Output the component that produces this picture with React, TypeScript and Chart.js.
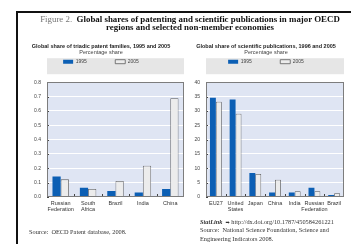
import React, { useEffect, useRef } from "react";
import { Chart, registerables } from "chart.js";

Chart.register(...registerables);

const seriesLabels = ["1995", "2005"];

const patentCategories: (string | string[])[] = [["Russian", "Federation"], ["South", "Africa"], "Brazil", "India", "China"];
const patent1995 = [0.142, 0.065, 0.042, 0.031, 0.056];
const patent2005 = [0.123, 0.056, 0.111, 0.218, 0.689];
const patentMax = 0.8;
const patentStep = 0.1;

const pubCategories: (string | string[])[] = ["EU27", ["United", "States"], "Japan", "China", "India", ["Russian", "Federation"], "Brazil"];
const pub1995 = [34.6, 34.0, 8.4, 1.6, 1.6, 3.2, 0.7];
const pub2005 = [33.2, 29.0, 8.0, 6.0, 2.0, 2.0, 1.3];
const pubMax = 40;
const pubStep = 5;

const SANS = "'Liberation Sans Narrow', 'Liberation Sans', Arial, sans-serif";
const SERIF = "'Liberation Serif', 'DejaVu Serif', serif";

const LEGEND_GAP = 8;

const decoPlugin = {
  id: "deco",
  afterInit(chart: any) {
    const lg = chart.legend;
    if (lg && !lg._patched) {
      const orig = lg.fit.bind(lg);
      lg.fit = function () {
        orig();
        this.height += LEGEND_GAP;
      };
      lg._patched = true;
    }
  },
  beforeDraw(chart: any) {
    const { ctx, chartArea: a, legend } = chart;
    ctx.save();
    if (legend) {
      ctx.fillStyle = "#e6e6e6";
      ctx.fillRect(a.left, legend.top, a.right - a.left, legend.bottom - legend.top - LEGEND_GAP);
    }
    ctx.fillStyle = "#dfe5f3";
    ctx.fillRect(a.left, a.top, a.right - a.left, a.bottom - a.top);
    ctx.restore();
  },
  afterDatasetsDraw(chart: any) {
    const { ctx, chartArea: a } = chart;
    const xs = chart.scales.x;
    const ys = chart.scales.y;
    ctx.save();
    ctx.strokeStyle = "#444";
    ctx.lineWidth = 1;
    const n = chart.data.labels.length;
    for (let i = 0; i < n - 1; i++) {
      const x = Math.round((xs.getPixelForValue(i) + xs.getPixelForValue(i + 1)) / 2) + 0.5;
      ctx.beginPath();
      ctx.moveTo(x, a.bottom);
      ctx.lineTo(x, a.bottom - 3);
      ctx.stroke();
    }
    ys.ticks.forEach((t: any) => {
      const y = Math.round(ys.getPixelForValue(t.value)) + 0.5;
      ctx.beginPath();
      ctx.moveTo(a.left, y);
      ctx.lineTo(a.left + 2, y);
      ctx.stroke();
    });
    ctx.strokeStyle = "#7d7d7d";
    ctx.strokeRect(Math.round(a.left) + 0.5, Math.round(a.top) + 0.5, Math.round(a.right - a.left) - 1, Math.round(a.bottom - a.top) - 1);
    ctx.restore();
  },
};

type PanelProps = {
  left: number;
  width: number;
  yWidth: number;
  padRight: number;
  title: string;
  categories: (string | string[])[];
  d1: number[];
  d2: number[];
  max: number;
  step: number;
  decimals: number;
};

function Panel(p: PanelProps) {
  const ref = useRef<HTMLCanvasElement>(null);
  useEffect(() => {
    if (!ref.current) return;
    const chart = new Chart(ref.current, {
      type: "bar",
      data: {
        labels: p.categories as any,
        datasets: [
          { label: seriesLabels[0], data: p.d1, backgroundColor: "#0c5fb4", borderColor: "#0a4f98", borderWidth: 0 },
          { label: seriesLabels[1], data: p.d2, backgroundColor: "#ececec", borderColor: "#5a5a5a", borderWidth: 0.8 },
        ],
      },
      options: {
        animation: false,
        responsive: false,
        maintainAspectRatio: false,
        devicePixelRatio: 1,
        layout: { padding: { left: 0, right: p.padRight, top: 0, bottom: 0 } },
        datasets: { bar: { categoryPercentage: 0.6, barPercentage: 1 } } as any,
        scales: {
          x: {
            grid: { display: false, drawTicks: false },
            border: { display: false },
            ticks: { font: { size: 5.5, family: SANS }, color: "#333", padding: 3, maxRotation: 0, autoSkip: false },
            afterFit: (s: any) => { s.height = 21; },
          },
          y: {
            min: 0,
            max: p.max,
            ticks: {
              stepSize: p.step,
              font: { size: 5, family: SANS },
              color: "#444",
              padding: 6,
              callback: (v: any) => Number(v).toFixed(p.decimals),
            },
            grid: { color: "#ffffff", lineWidth: 1, drawTicks: false },
            border: { display: false },
            afterFit: (s: any) => { s.width = p.yWidth; },
          },
        },
        plugins: {
          title: {
            display: true,
            text: p.title,
            font: { size: 5.5, family: SANS, weight: "bold" },
            color: "#222",
            padding: { top: 1, bottom: 0 },
          },
          subtitle: {
            display: true,
            text: "Percentage share",
            font: { size: 5.5, family: SANS },
            color: "#444",
            padding: { top: 0, bottom: 2 },
          },
          legend: {
            display: true,
            labels: {
              boxWidth: 10,
              boxHeight: 4,
              padding: 1,
              color: "#444",
              font: { size: 5, family: SANS },
              generateLabels: (chart: any) => {
                const items = (Chart.defaults.plugins.legend.labels as any).generateLabels(chart);
                items.forEach((it: any, i: number) => {
                  if (i < items.length - 1) it.text = it.text + "\u2003\u2003\u2003\u2003\u2003\u2002";
                });
                return items;
              },
            },
          },
          tooltip: { enabled: false },
        },
      },
      plugins: [decoPlugin],
    });
    return () => chart.destroy();
  }, []);
  return (
    <canvas
      ref={ref}
      width={p.width}
      height={176}
      style={{ position: "absolute", left: p.left, top: 42, width: p.width, height: 176 }}
    />
  );
}

const textLayer: React.CSSProperties = { willChange: "transform", transform: "translateZ(0)" };

export default function App() {
  return (
    <div style={{ position: "fixed", left: 0, top: 0, width: 351, height: 244, background: "#fff", overflow: "hidden" }}>
      <div style={{ position: "absolute", left: 16, top: 11, width: 400, height: 300, borderLeft: "2px solid #111", borderTop: "2px solid #111" }} />
      <div style={{ ...textLayer, position: "absolute", left: 30, top: 15, width: 320, textAlign: "center", fontFamily: SERIF, fontSize: 8.9, lineHeight: "8px", color: "#111", whiteSpace: "nowrap" }}>
        <span style={{ color: "#777" }}>Figure 2.</span>&nbsp;&nbsp;<b>Global shares of patenting and scientific publications in major OECD</b>
        <br />
        <b>regions and selected non-member economies</b>
      </div>
      <Panel
        left={18}
        width={195}
        yWidth={29}
        padRight={29}
        title="Global share of triadic patent families, 1995 and 2005"
        categories={patentCategories}
        d1={patent1995}
        d2={patent2005}
        max={patentMax}
        step={patentStep}
        decimals={1}
      />
      <Panel
        left={188}
        width={174}
        yWidth={18}
        padRight={18}
        title="Global share of scientific publications, 1996 and 2005"
        categories={pubCategories}
        d1={pub1995}
        d2={pub2005}
        max={pubMax}
        step={pubStep}
        decimals={0}
      />
      <div style={{ ...textLayer, position: "absolute", left: 29, top: 228, fontFamily: SERIF, fontSize: 6.3, lineHeight: "8px", color: "#333", whiteSpace: "nowrap" }}>
        Source: &nbsp;OECD Patent database, 2008.
      </div>
      <div style={{ ...textLayer, position: "absolute", left: 200, top: 218, fontFamily: SERIF, fontSize: 6.3, lineHeight: "8.4px", color: "#333", whiteSpace: "nowrap" }}>
        <i style={{ fontWeight: "bold" }}>StatLink</i>&nbsp;&nbsp;<span style={{ fontFamily: "'DejaVu Sans', sans-serif", fontSize: 5 }}>➡</span> http://dx.doi.org/10.1787/450584261221
        <br />
        Source: &nbsp;National Science Foundation, Science and
        <br />
        Engineering Indicators 2008.
      </div>
    </div>
  );
}
